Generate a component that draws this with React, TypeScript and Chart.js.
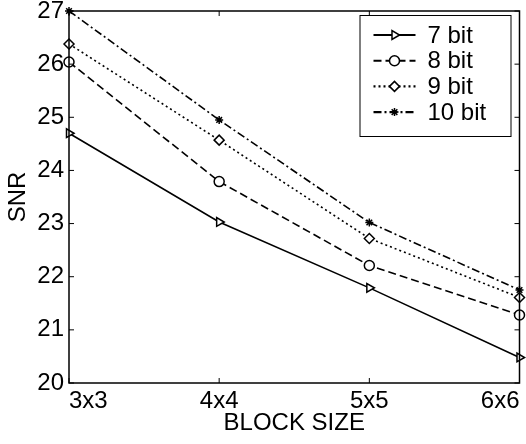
import React, { useEffect, useRef } from "react";
import { Chart, registerables } from "chart.js";
import { drawPoint } from "chart.js/helpers";

Chart.register(...registerables);

const categories = ["3x3", "4x4", "5x5", "6x6"];
const bit7 = [24.7, 23.03, 21.79, 20.48];
const bit8 = [26.04, 23.79, 22.21, 21.28];
const bit9 = [26.38, 24.57, 22.72, 21.61];
const bit10 = [27.0, 24.95, 23.02, 21.75];
const seriesLabels = ["7 bit", "8 bit", "9 bit", "10 bit"];
const yMin = 20;
const yMax = 27;
const yStep = 1;
const xTitle = "BLOCK SIZE";
const yTitle = "SNR";

const FONT = "'Liberation Sans', Arial, Helvetica, sans-serif";
const FS = 24;

const framePlugin = {
  id: "frameTicks",
  afterDatasetsDraw(chart: any) {
    const { ctx, chartArea } = chart;
    const { left, right, top, bottom } = chartArea;
    const xs = chart.scales.x;
    const ys = chart.scales.y;
    const tl = 5;
    ctx.save();
    ctx.strokeStyle = "#000";
    ctx.lineWidth = 1.5;
    ctx.setLineDash([]);
    ctx.strokeRect(left, top, right - left, bottom - top);
    ctx.beginPath();
    xs.ticks.forEach((_: any, i: number) => {
      const px = xs.getPixelForTick(i);
      ctx.moveTo(px, bottom);
      ctx.lineTo(px, bottom - tl);
      ctx.moveTo(px, top);
      ctx.lineTo(px, top + tl);
    });
    ys.ticks.forEach((_: any, i: number) => {
      const py = ys.getPixelForTick(i);
      ctx.moveTo(left, py);
      ctx.lineTo(left + tl, py);
      ctx.moveTo(right, py);
      ctx.lineTo(right - tl, py);
    });
    ctx.lineWidth = 1;
    ctx.stroke();
    ctx.restore();
  },
};

const legendPlugin = {
  id: "boxLegend",
  afterDraw(chart: any) {
    const { ctx, chartArea } = chart;
    const boxLeft = chartArea.right - 160;
    const boxTop = chartArea.top + 4;
    const boxW = 151;
    const boxH = 121;
    ctx.save();
    ctx.fillStyle = "#fff";
    ctx.fillRect(boxLeft, boxTop, boxW, boxH);
    ctx.strokeStyle = "#000";
    ctx.lineWidth = 1;
    ctx.setLineDash([]);
    ctx.strokeRect(boxLeft + 0.5, boxTop + 0.5, boxW, boxH);
    chart.data.datasets.forEach((ds: any, i: number) => {
      const y = boxTop + 20 + i * 25.7;
      const x0 = boxLeft + 14;
      const x1 = boxLeft + 56;
      ctx.strokeStyle = ds.borderColor;
      ctx.lineWidth = ds.borderWidth + 0.5;
      ctx.setLineDash(ds.borderDash || []);
      ctx.beginPath();
      ctx.moveTo(x0, y);
      ctx.lineTo(x1, y);
      ctx.stroke();
      ctx.setLineDash([]);
      ctx.fillStyle = ds.pointBackgroundColor;
      ctx.strokeStyle = ds.pointBorderColor;
      ctx.lineWidth = ds.pointBorderWidth;
      drawPoint(
        ctx,
        {
          pointStyle: ds.pointStyle,
          rotation: ds.pointRotation || 0,
          radius: ds.pointRadius,
          borderWidth: ds.pointBorderWidth,
        },
        (x0 + x1) / 2,
        y
      );
      ctx.fillStyle = "#000";
      ctx.font = `${FS}px ${FONT}`;
      ctx.textAlign = "left";
      ctx.textBaseline = "middle";
      ctx.fillText(ds.label, boxLeft + 68, y + 1);
    });
    ctx.restore();
  },
};

export default function App() {
  const ref = useRef<HTMLCanvasElement | null>(null);
  useEffect(() => {
    if (!ref.current) return;
    const common = {
      borderColor: "#000",
      pointBorderColor: "#000",
      pointBackgroundColor: "#fff",
      pointBorderWidth: 1.5,
      fill: false,
      tension: 0,
      clip: false as any,
    };
    const chart = new Chart(ref.current, {
      type: "line",
      data: {
        labels: categories,
        datasets: [
          {
            ...common,
            label: seriesLabels[0],
            data: bit7,
            borderWidth: 1.6,
            borderDash: [],
            pointStyle: "triangle",
            pointRotation: 90,
            pointRadius: 5,
          },
          {
            ...common,
            label: seriesLabels[1],
            data: bit8,
            borderWidth: 1.6,
            borderDash: [8, 4],
            pointStyle: "circle",
            pointRadius: 5,
          },
          {
            ...common,
            label: seriesLabels[2],
            data: bit9,
            borderWidth: 1.6,
            borderDash: [2, 3],
            pointStyle: "rectRot",
            pointRadius: 5,
          },
          {
            ...common,
            label: seriesLabels[3],
            data: bit10,
            borderWidth: 1.6,
            borderDash: [8, 3, 2, 3],
            pointStyle: "star",
            pointRadius: 4,
          },
        ] as any,
      },
      options: {
        animation: false,
        responsive: false,
        maintainAspectRatio: false,
        layout: { padding: { left: 0, top: 11, right: 5, bottom: 0 } },
        plugins: {
          legend: { display: false },
          tooltip: { enabled: false },
        },
        scales: {
          x: {
            type: "category",
            offset: false,
            grid: { display: false, drawTicks: false, tickLength: 0 },
            border: { display: false },
            ticks: {
              color: "#000",
              font: { family: FONT, size: FS },
              padding: 4,
              align: "inner",
              maxRotation: 0,
              autoSkip: false,
            },
            title: {
              display: true,
              text: xTitle,
              color: "#000",
              font: { family: FONT, size: FS },
              padding: { top: 0, bottom: 6 },
            },
            afterFit: (s: any) => {
              s.height = 61;
              s.paddingLeft = 0;
              s.paddingRight = 0;
            },
          },
          y: {
            type: "linear",
            min: yMin,
            max: yMax,
            grid: { display: false, drawTicks: false, tickLength: 0 },
            border: { display: false },
            ticks: {
              stepSize: yStep,
              color: "#000",
              font: { family: FONT, size: FS },
              padding: 5,
            },
            title: {
              display: true,
              text: yTitle,
              color: "#000",
              font: { family: FONT, size: FS },
              padding: { top: 4, bottom: 0 },
            },
            afterFit: (s: any) => {
              s.width = 69;
              s.paddingTop = 0;
              s.paddingBottom = 0;
            },
          },
        },
      } as any,
      plugins: [framePlugin, legendPlugin],
    });
    return () => chart.destroy();
  }, []);
  return (
    <div style={{ position: "fixed", left: 0, top: 0, width: 526, height: 444, background: "#fff" }}>
      <canvas ref={ref} width={526} height={444} style={{ display: "block" }} />
    </div>
  );
}
